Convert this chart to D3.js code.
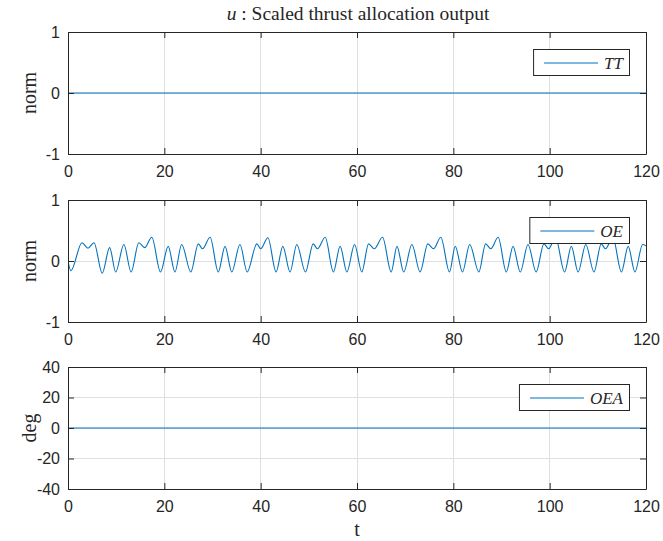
<!DOCTYPE html>
<html>
<head>
<meta charset="utf-8">
<script src="https://cdn.jsdelivr.net/npm/d3@7"></script>
<style>
  html, body { margin: 0; padding: 0; background: #fff; }
  svg { display: block; }
</style>
</head>
<body>
<div id="chart"></div>
<script>
// ---------------- data ----------------
const xTicks = [0, 20, 40, 60, 80, 100, 120];
const normTicks = [-1, 0, 1];
const degTicks = [-40, -20, 0, 20, 40];

// TT : constant zero
const ttT = [0, 120];
const ttV = [0, 0];

// OE : oscillating signal (extrema)
const oeT = [0, 0.6, 2.9, 4.15, 5.4, 7.1, 8.65, 9.9, 11.6, 13.1, 14.7, 15.9, 17.4, 19.2,
  20.8, 22.2, 23.6, 25.5, 27.05, 27.95, 29.5, 31.2, 32.6, 34.0, 35.7, 37.2, 39.2, 40.0, 41.5, 43.2,
  44.6, 46.1, 47.5, 49.3, 50.9, 51.8, 53.4, 55.1, 56.5, 57.9, 59.5, 61.0, 62.4, 63.6, 65.3, 67.1,
  68.3, 69.7, 71.4, 73.1, 74.7, 75.9, 77.4, 79.2, 80.4, 81.9, 83.4, 85.3, 86.7, 87.8, 89.3, 91.0,
  92.4, 93.9, 95.5, 97.2, 98.8, 99.8, 101.2, 103.1, 104.5, 105.9, 107.5, 109.2, 110.7, 111.6, 113.1, 114.9,
  116.3, 117.7, 119.3, 120];
const oeV = [0, -0.16, 0.30, 0.21, 0.30, -0.20, 0.22, -0.18, 0.27, -0.18, 0.30, 0.22, 0.39, -0.18,
  0.24, -0.18, 0.27, -0.18, 0.28, 0.20, 0.39, -0.18, 0.24, -0.18, 0.27, -0.18, 0.28, 0.20, 0.38, -0.18,
  0.24, -0.18, 0.27, -0.18, 0.28, 0.20, 0.39, -0.18, 0.24, -0.18, 0.27, -0.18, 0.28, 0.20, 0.39, -0.18,
  0.24, -0.18, 0.27, -0.18, 0.28, 0.20, 0.39, -0.18, 0.24, -0.18, 0.27, -0.18, 0.28, 0.20, 0.39, -0.18,
  0.24, -0.18, 0.27, -0.18, 0.28, 0.20, 0.39, -0.18, 0.24, -0.18, 0.27, -0.18, 0.28, 0.20, 0.39, -0.18,
  0.24, -0.18, 0.27, 0.25];

// OEA : constant zero (deg)
const oeaT = [0, 120];
const oeaV = [0, 0];

const titleText = "u";
const titleRest = " : Scaled thrust allocation output";
const xLabel = "t";

// ---------------- layout ----------------
const W = 663, H = 541;
const left = 68, right = 646;
const axisColor = "#262626";
const lineColor = "#0072BD";
const sans = "'Liberation Sans', Arial, Helvetica, sans-serif";
const serif = "'Liberation Serif', 'Times New Roman', serif";

const panels = [
  { top: 32, bottom: 154, domain: [-1, 1], ticks: normTicks, ylabel: "norm", legend: "TT", t: ttT, v: ttV },
  { top: 200, bottom: 322, domain: [-1, 1], ticks: normTicks, ylabel: "norm", legend: "OE", t: oeT, v: oeV },
  { top: 367, bottom: 489, domain: [-40, 40], ticks: degTicks, ylabel: "deg", legend: "OEA", t: oeaT, v: oeaV }
];

const svg = d3.select("#chart").append("svg").attr("width", W).attr("height", H)
  .style("font-family", sans);

const x = d3.scaleLinear().domain([0, 120]).range([left, right]);
const tickLen = 6;
const fmt = d => String(d);

panels.forEach((p, i) => {
  const y = d3.scaleLinear().domain(p.domain).range([p.bottom, p.top]);
  const g = svg.append("g");

  // grid
  g.append("g").selectAll("line").data(xTicks).join("line")
    .attr("x1", d => x(d)).attr("x2", d => x(d)).attr("y1", p.top).attr("y2", p.bottom)
    .style("stroke", "#dfdfdf").attr("stroke-width", 1)
    .attr("shape-rendering", "crispEdges");
  g.append("g").selectAll("line").data(p.ticks).join("line")
    .attr("x1", left).attr("x2", right).attr("y1", d => y(d)).attr("y2", d => y(d))
    .style("stroke", "#dfdfdf").attr("stroke-width", 1)
    .attr("shape-rendering", "crispEdges");

  // data line
  const clipId = "clip" + i;
  svg.append("clipPath").attr("id", clipId).append("rect")
    .attr("x", left).attr("y", p.top).attr("width", right - left).attr("height", p.bottom - p.top);
  const pts = p.t.map((t, k) => [t, p.v[k]]);
  g.append("path").datum(pts)
    .attr("clip-path", `url(#${clipId})`)
    .style("fill", "none").style("stroke", lineColor).style("stroke-width", "1.1px")
    .attr("d", d3.line().x(d => x(d[0])).y(d => y(d[1])).curve(d3.curveMonotoneX));

  // axes (box with inward ticks)
  const axB = g.append("g").attr("transform", `translate(0,${p.bottom})`)
    .call(d3.axisBottom(x).tickValues(xTicks).tickSizeInner(-tickLen).tickSizeOuter(0).tickPadding(12).tickFormat(fmt));
  const axT = g.append("g").attr("transform", `translate(0,${p.top})`)
    .call(d3.axisTop(x).tickValues(xTicks).tickSizeInner(-tickLen).tickSizeOuter(0).tickFormat(""));
  const axL = g.append("g").attr("transform", `translate(${left},0)`)
    .call(d3.axisLeft(y).tickValues(p.ticks).tickSizeInner(-tickLen).tickSizeOuter(0).tickPadding(8).tickFormat(fmt));
  const axR = g.append("g").attr("transform", `translate(${right},0)`)
    .call(d3.axisRight(y).tickValues(p.ticks).tickSizeInner(-tickLen).tickSizeOuter(0).tickFormat(""));
  [axB, axT, axL, axR].forEach(a => {
    a.select(".domain").style("stroke", axisColor).attr("stroke-width", 1);
    a.selectAll(".tick line").style("stroke", axisColor).attr("stroke-width", 1);
    a.selectAll("text").style("fill", axisColor).style("font-size", "16px").style("font-family", sans);
  });
  axB.selectAll("text").attr("dy", "0.71em");

  // y label
  svg.append("text")
    .attr("transform", `translate(36,${(p.top + p.bottom) / 2}) rotate(-90)`)
    .attr("text-anchor", "middle")
    .style("font-family", serif).style("font-size", "20px").style("fill", axisColor)
    .text(p.ylabel);

  // legend
  const lg = svg.append("g");
  const tmp = lg.append("text").style("font-family", serif).style("font-style", "italic")
    .style("font-size", "17px").text(p.legend);
  const tw = tmp.node().getComputedTextLength();
  tmp.remove();
  const boxRight = right - 17, boxTop = p.top + 17, boxH = 26;
  const boxW = 11 + 54 + 6 + tw + 6;
  const boxLeft = boxRight - boxW;
  lg.append("rect").attr("x", boxLeft + 0.5).attr("y", boxTop + 0.5).attr("width", boxW).attr("height", boxH)
    .style("fill", "#fff").style("stroke", axisColor).attr("stroke-width", 1);
  lg.append("line").attr("x1", boxLeft + 11).attr("x2", boxLeft + 65)
    .attr("y1", boxTop + boxH / 2 + 1).attr("y2", boxTop + boxH / 2 + 1)
    .style("stroke", lineColor).style("stroke-width", "1.1px");
  lg.append("text").attr("x", boxLeft + 71).attr("y", boxTop + boxH / 2 + 6.5)
    .style("font-family", serif).style("font-style", "italic").style("font-size", "17px")
    .style("fill", axisColor).text(p.legend);
});

// title
const title = svg.append("text").attr("x", (left + right) / 2 + 1).attr("y", 20)
  .attr("text-anchor", "middle").style("font-family", serif).style("font-size", "19.5px")
  .style("fill", axisColor);
title.append("tspan").style("font-style", "italic").text(titleText);
title.append("tspan").text(titleRest);

// x label
svg.append("text").attr("x", (left + right) / 2).attr("y", 536)
  .attr("text-anchor", "middle").style("font-family", serif).style("font-size", "20px")
  .style("fill", axisColor).text(xLabel);
</script>
</body>
</html>
